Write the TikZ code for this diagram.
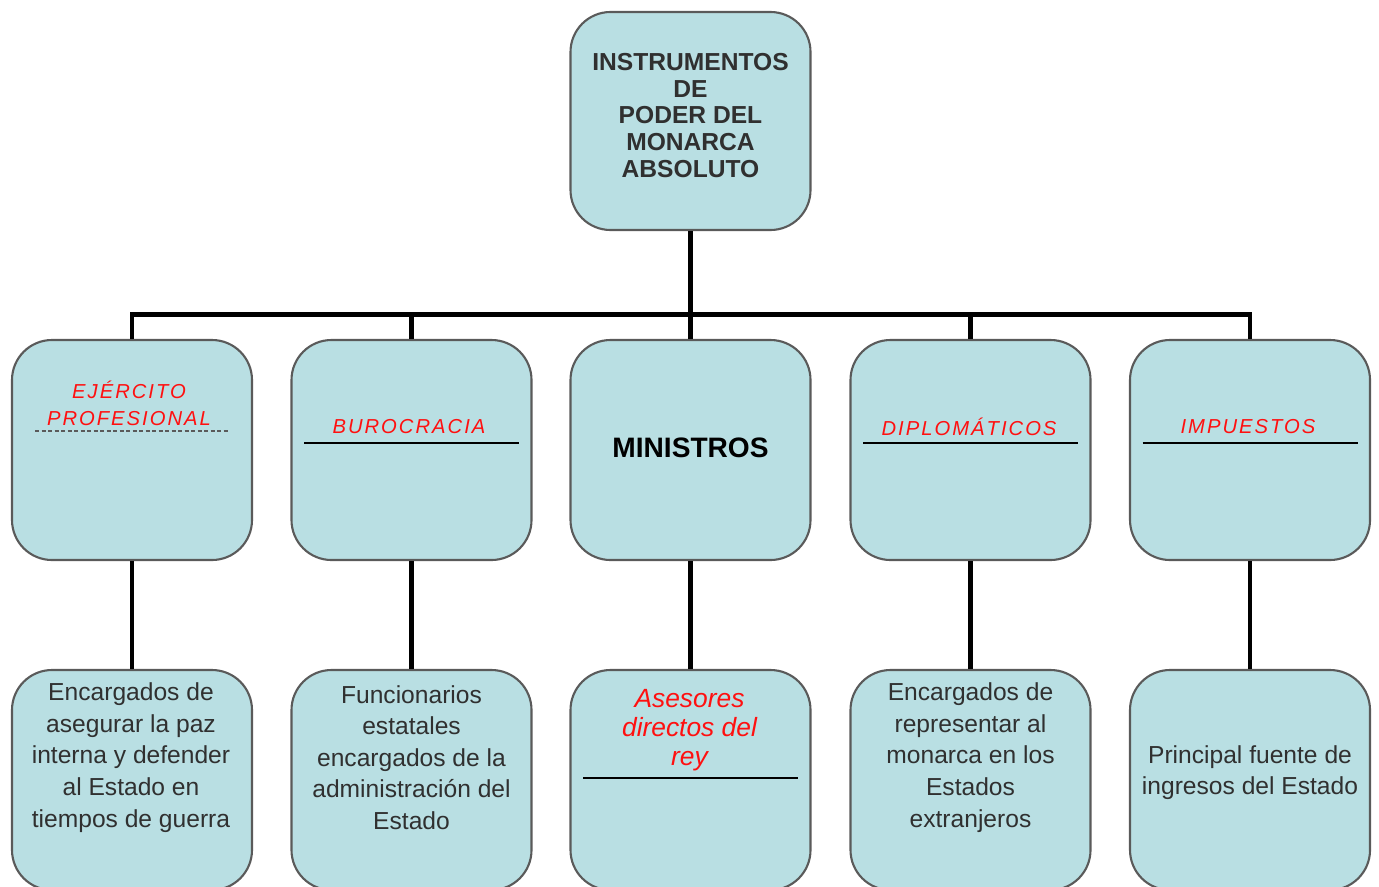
\documentclass[tikz,border=0pt]{standalone}
\usepackage{fontspec}
\setmainfont{Liberation Sans}
\usetikzlibrary{positioning}

\definecolor{boxfill}{HTML}{B9DFE3}
\definecolor{boxline}{HTML}{5A5A5A}
\definecolor{labelred}{HTML}{FF1010}
\definecolor{txtgray}{HTML}{303030}

\begin{document}
\begin{tikzpicture}[
                block/.style={rectangle, rounded corners=0.8cm, fill=boxfill, draw=boxline, line width=1.2pt, minimum width=4.8cm, minimum height=4.4cm},
                title/.style={font=\fontsize{14}{15.3}\selectfont\bfseries, align=center, text=txtgray},
                redlabel/.style={font=\fontsize{11.5}{15.2}\selectfont\itshape\addfontfeature{LetterSpace=10}, text=labelred, align=center},
                note/.style={font=\fontsize{14}{18}\selectfont, align=center, text=txtgray},
                link/.style={draw, line width=2.8pt},
                rule/.style={draw, line width=1.6pt}
            ]
            \useasboundingbox (0,0) rectangle (27.58,-17.72);
            % boxes
            \node[block, minimum height=4.36cm](top) at (13.81,-2.42){};
            \foreach \x [count=\i] in {2.64,8.23,13.81,19.41,25.0} {
                \node[block](m\i) at (\x,-9.0){};
                \node[block](b\i) at (\x,-15.6){};
            }
            % connectors
            \foreach \i in {1,...,5} {
                \path[link] (top.south) -- ++(0,-1.66) -| (m\i.north);
                \path[link] (m\i.south) -- (b\i.north);
            }
            % texts
            \node[title](toptext) at (13.81,-2.31){INSTRUMENTOS\\DE\\PODER DEL\\MONARCA\\ABSOLUTO};
            \node[redlabel](ejercito) at (2.58,-8.07){EJÉRCITO\\PROFESIONAL};
            \node[redlabel](burocracia) at (8.18,-8.54){BUROCRACIA};
            \node[font=\fontsize{16}{18}\selectfont\bfseries, text=black](ministros) at (13.81,-8.96){MINISTROS};
            \node[redlabel](diplomaticos) at (19.38,-8.54){DIPLOMÁTICOS};
            \node[redlabel](impuestos) at (24.96,-8.54){IMPUESTOS};
            \path[draw=boxline, line width=0.8pt, dash pattern=on 2.5pt off 1.2pt] ([shift={(-1.94,0.38)}]m1.center) -- ++(3.88,0);
            \foreach \i in {2,4,5} {
                \path[rule] ([shift={(-2.15,0.14)}]m\i.center) -- ++(4.3,0);
            }
            \node[note](ejercitonote) at (2.62,-15.15){Encargados de\\asegurar la paz\\interna y defender\\al Estado en\\tiempos de guerra};
            \node[note](burocracianote) at (8.23,-15.15){Funcionarios\\estatales\\encargados de la\\administración del\\Estado};
            \node[font=\fontsize{15}{16.4}\selectfont\itshape, text=labelred, align=center](asesores) at (13.79,-14.6){Asesores\\directos del\\rey};
            \path[rule] ([shift={(-2.15,0.04)}]b3.center) -- ++(4.3,0);
            \node[note](diplomaticosnote) at (19.41,-15.15){Encargados de\\representar al\\monarca en los\\Estados\\extranjeros};
            \node[note](impuestosnote) at (25.0,-15.45){Principal fuente de\\ingresos del Estado};
        \end{tikzpicture}
\end{document}
